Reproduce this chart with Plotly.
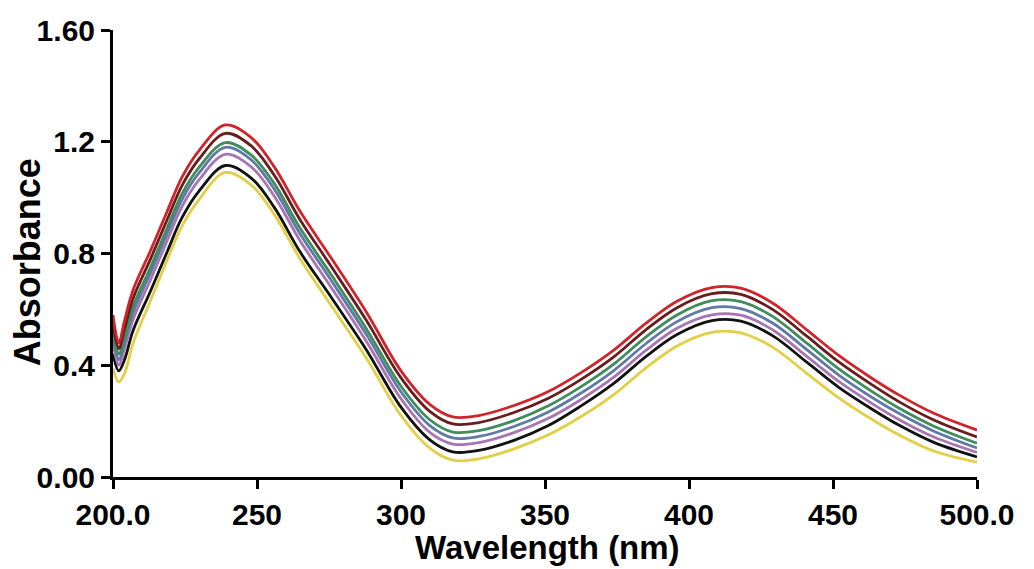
import plotly.graph_objects as go

# Wavelength grid (nm) shared by all spectra
wavelength = [200, 202, 204, 207, 213, 219, 224, 230, 239, 248, 256, 265, 276, 288, 300,
              310, 318, 327, 339, 351, 362, 374, 385, 396, 408, 418, 429, 441, 452, 464,
              473, 485, 500]

# Absorbance spectra, one list per sample
abs_red = [0.58, 0.48, 0.56, 0.67, 0.81, 0.956, 1.074, 1.17, 1.26, 1.215, 1.11, 0.95, 0.78, 0.59, 0.38,
           0.26, 0.215, 0.22, 0.255, 0.305, 0.37, 0.455, 0.55, 0.63, 0.678, 0.676, 0.623, 0.526, 0.435, 0.35,
           0.293, 0.228, 0.168]
abs_maroon = [0.55, 0.46, 0.53, 0.64, 0.78, 0.926, 1.044, 1.14, 1.23, 1.185, 1.08, 0.92, 0.75, 0.56, 0.355,
              0.235, 0.19, 0.195, 0.23, 0.281, 0.346, 0.431, 0.527, 0.607, 0.656, 0.654, 0.60, 0.503, 0.412, 0.327,
              0.269, 0.204, 0.143]
abs_green = [0.52, 0.44, 0.50, 0.61, 0.75, 0.896, 1.014, 1.11, 1.197, 1.152, 1.05, 0.89, 0.72, 0.53, 0.325,
             0.205, 0.161, 0.166, 0.201, 0.254, 0.32, 0.405, 0.501, 0.581, 0.631, 0.628, 0.575, 0.478, 0.387, 0.303,
             0.246, 0.182, 0.121]
abs_blue = [0.50, 0.42, 0.48, 0.59, 0.73, 0.876, 0.994, 1.09, 1.18, 1.135, 1.03, 0.87, 0.70, 0.51, 0.305,
            0.184, 0.14, 0.145, 0.18, 0.232, 0.297, 0.382, 0.477, 0.557, 0.606, 0.603, 0.551, 0.455, 0.365, 0.282,
            0.227, 0.164, 0.104]
abs_purple = [0.48, 0.40, 0.46, 0.565, 0.705, 0.851, 0.969, 1.065, 1.155, 1.11, 1.005, 0.845, 0.675, 0.485, 0.28,
              0.16, 0.118, 0.123, 0.158, 0.209, 0.274, 0.358, 0.453, 0.533, 0.58, 0.579, 0.527, 0.431, 0.342, 0.26,
              0.205, 0.143, 0.088]
abs_black = [0.44, 0.38, 0.42, 0.525, 0.665, 0.811, 0.929, 1.025, 1.115, 1.07, 0.965, 0.805, 0.64, 0.455, 0.25,
             0.133, 0.09, 0.095, 0.13, 0.183, 0.251, 0.336, 0.431, 0.511, 0.56, 0.558, 0.506, 0.41, 0.321, 0.24,
             0.185, 0.124, 0.072]
abs_yellow = [0.39, 0.34, 0.37, 0.48, 0.63, 0.781, 0.899, 0.995, 1.09, 1.045, 0.94, 0.78, 0.61, 0.425, 0.22,
              0.103, 0.06, 0.065, 0.10, 0.15, 0.213, 0.296, 0.39, 0.47, 0.518, 0.516, 0.465, 0.37, 0.283, 0.203,
              0.15, 0.093, 0.053]

y_tickvals = [0.0, 0.4, 0.8, 1.2, 1.6]
y_ticktext = ["0.00", "0.4", "0.8", "1.2", "1.60"]
x_tickvals = [200, 250, 300, 350, 400, 450, 500]
x_ticktext = ["200.0", "250", "300", "350", "400", "450", "500.0"]

series = [
    (abs_yellow, "#e2cf45"),
    (abs_black, "#111111"),
    (abs_purple, "#a874b4"),
    (abs_blue, "#5f7aa6"),
    (abs_green, "#3f8c5c"),
    (abs_maroon, "#6a1c1c"),
    (abs_red, "#d0242c"),
]

FONT = "Liberation Sans, Arial, sans-serif"

fig = go.Figure()
for values, color in series:
    fig.add_trace(go.Scatter(
        x=wavelength, y=values, mode="lines",
        line=dict(color=color, width=2.8, shape="spline", smoothing=1.0),
        showlegend=False, hoverinfo="skip",
    ))

axis_common = dict(
    showgrid=False, zeroline=False, showline=True, linecolor="black", linewidth=3,
    ticks="outside", ticklen=9, tickwidth=3, tickcolor="black",
    tickfont=dict(family=FONT, size=30, color="black", weight="bold"),
)

fig.update_xaxes(range=[200, 500], tickvals=x_tickvals, ticktext=x_ticktext, **axis_common)
fig.update_yaxes(range=[0, 1.6], tickvals=y_tickvals, ticktext=y_ticktext, **axis_common)

fig.add_annotation(text="Wavelength (nm)", xref="paper", yref="paper", x=0.503, y=-0.158,
                   xanchor="center", yanchor="middle", showarrow=False,
                   font=dict(family=FONT, size=33, color="black", weight="bold"))
fig.add_annotation(text="Absorbance", xref="paper", yref="paper", x=-0.098, y=0.481,
                   xanchor="center", yanchor="middle", showarrow=False, textangle=-90,
                   font=dict(family=FONT, size=36, color="black", weight="bold"))

fig.update_layout(
    width=1034, height=569,
    margin=dict(l=113, r=57, t=30, b=92),
    plot_bgcolor="white", paper_bgcolor="white",
)

fig.write_html("out.html")
